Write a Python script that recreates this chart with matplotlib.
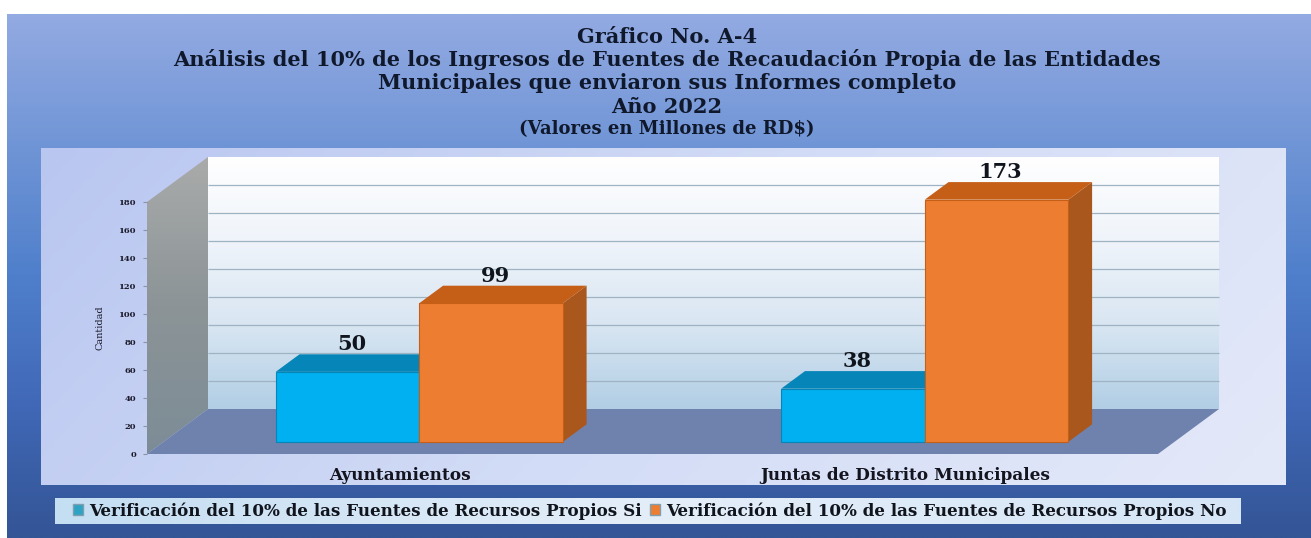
import numpy as np
import matplotlib
matplotlib.use('Agg')
import matplotlib.pyplot as plt
from matplotlib.colors import LinearSegmentedColormap
from matplotlib.patches import Polygon, Patch

plt.rcParams['font.family'] = ['DejaVu Serif', 'Liberation Serif']
plt.rcParams['font.weight'] = 'bold'

categories = ['Ayuntamientos', 'Juntas de Distrito Municipales']
si_values = [50, 38]
no_values = [99, 173]
y_ticks = [0, 20, 40, 60, 80, 100, 120, 140, 160, 180]
series_names = ['Verificación del 10% de las Fuentes de Recursos Propios Si',
                'Verificación del 10% de las Fuentes de Recursos Propios No']
title_lines = ['Gráfico No. A-4',
               'Análisis del 10% de los Ingresos de Fuentes de Recaudación Propia de las Entidades',
               'Municipales que enviaron sus Informes completo',
               'Año 2022',
               '(Valores en Millones de RD$)']

W, H = 1311, 538
fig = plt.figure(figsize=(W / 100, H / 100), dpi=100, facecolor='white')

def px_axes(left, top, right, bottom, **kw):
    return fig.add_axes([left / W, 1 - bottom / H, (right - left) / W, (bottom - top) / H], **kw)

def grad(name, stops, n=256):
    return LinearSegmentedColormap.from_list(name, stops, N=n)

# page background
bg = px_axes(0, 0, W, H)
bg.axis('off')
yy, xx = np.mgrid[0:1:300j, 0:1:600j]
bg.imshow(yy, extent=(7, W, H, 14), aspect='auto', zorder=1, vmin=0, vmax=1,
          cmap=grad('page', ['#93aae2', '#7095d6', '#4f7fcb', '#4068b6', '#345596']))
# chart panel
yy, xx = np.mgrid[0:1:100j, 0:1:300j]
bg.imshow(xx + 0.25 * yy, extent=(41, 1286, 485, 148), aspect='auto', zorder=2,
          cmap=grad('panel', ['#b9c6f0', '#d2dcf6', '#e4e9f9']), vmin=0, vmax=1.25)
# legend box
bg.imshow(xx, extent=(55, 1241, 524, 498), aspect='auto', zorder=2,
          cmap=grad('lgnd', ['#c4def2', '#e4eef9', '#d6e6f6']), vmin=0, vmax=1)
bg.set_xlim(0, W)
bg.set_ylim(H, 0)

for i, line in enumerate(title_lines):
    size = 13 if i == 4 else 15
    fig.text(667 / W, 1 - [37, 60, 83, 107, 129][i] / H, line, ha='center', va='center',
             fontsize=size, color='#10182c', fontweight='bold')

# front plane of the 3D box
ax = px_axes(147, 202, 1158, 454)
ax.patch.set_visible(False)
XMIN, XMAX, YMAX = -0.5, 1.5, 180
DX = 61 / 1011 * (XMAX - XMIN)
DY = 45 / 252 * YMAX

def proj(x, v, d=0.0):
    return x + d * DX, v + d * DY

def face(pts, color, z):
    p = Polygon([proj(*q) for q in pts], closed=True, facecolor=color, edgecolor='none',
                zorder=z, clip_on=False)
    ax.add_patch(p)
    return p

def gradient_face(pts, stops, z):
    xy = np.array([proj(*q) for q in pts])
    p = Polygon(xy, closed=True, facecolor='none', edgecolor='none', zorder=z, clip_on=False)
    ax.add_patch(p)
    g = np.linspace(0, 1, 256).reshape(-1, 1)
    im = ax.imshow(g, extent=(xy[:, 0].min(), xy[:, 0].max(), xy[:, 1].min(), xy[:, 1].max()),
                   origin='upper', aspect='auto', zorder=z, cmap=grad('f%d' % z, stops), vmin=0, vmax=1)
    im.set_clip_path(p)
    im.set_clip_box(fig.bbox)
    return im

# back wall, side wall, floor
gradient_face([(XMIN, 0, 1), (XMAX, 0, 1), (XMAX, YMAX, 1), (XMIN, YMAX, 1)],
              ['#ffffff', '#eff4fa', '#d9e6f2', '#b1cee5'], 1)
gradient_face([(XMIN, 0, 0), (XMIN, 0, 1), (XMIN, YMAX, 1), (XMIN, YMAX, 0)],
              ['#a9abaa', '#8c9497', '#7c8c96'], 1)
face([(XMIN, 0, 0), (XMAX, 0, 0), (XMAX, 0, 1), (XMIN, 0, 1)], '#6f82ad', 2)
for t in y_ticks[1:-1]:
    xa, ya = proj(XMIN, t, 1)
    xb, yb = proj(XMAX, t, 1)
    ax.plot([xa, xb], [ya, yb], color='#9fb3c2', lw=0.9, zorder=2, clip_on=False, solid_capstyle='butt')

# bars, sitting part way into the floor
BAR_W = 0.284
D0, D1 = 0.27, 0.66
OFFSET = 0.006
for idx, vals, front, top, side in [(-1, si_values, '#00b0f0', '#0686b8', '#0686b8'),
                                    (0, no_values, '#ed7d31', '#c55f18', '#a9571c')]:
    for k, v in enumerate(vals):
        x0 = k + OFFSET + (0 if idx == 0 else -BAR_W)
        x1 = x0 + BAR_W
        face([(x1, 0, D0), (x1, 0, D1), (x1, v, D1), (x1, v, D0)], side, 5 + idx)
        face([(x0, v, D0), (x1, v, D0), (x1, v, D1), (x0, v, D1)], top, 5 + idx)
        fx0, fy0 = proj(x0, 0, D0)
        fx1, fy1 = proj(x1, v, D0)
        ax.bar(fx0, fy1 - fy0, width=fx1 - fx0, bottom=fy0, align='edge', color=front,
               edgecolor=top, linewidth=0.8, zorder=5.5 + idx, clip_on=False)
        ly = proj(x0, v, D1)[1]
        ax.annotate(str(v), ((fx0 + fx1) / 2, ly), xytext=(3, 0), textcoords='offset points', ha='center',
                    va='bottom', fontsize=15, color='#10141c', zorder=10, annotation_clip=False)

ax.set_xlim(XMIN, XMAX)
ax.set_ylim(0, YMAX)
ax.set_yticks(y_ticks)
ax.set_yticklabels([str(t) for t in y_ticks], fontsize=6, color='#1a1a2a')
ax.set_xticks([0, 1])
ax.set_xticklabels(categories, fontsize=12.2, color='#14141e')
ax.tick_params(axis='y', length=3, width=0.8, color='#8a93a8', pad=5)
ax.tick_params(axis='x', length=0, pad=9)
ax.set_ylabel('Cantidad', fontsize=7, color='#1a1a2a', labelpad=10)
for s in ax.spines.values():
    s.set_visible(False)

handles = [Patch(facecolor='#2ea3c4', edgecolor='#7f9fb0', label=series_names[0]),
           Patch(facecolor='#ed7d31', edgecolor='#7f9fb0', label=series_names[1])]
fig.legend(handles=handles, ncol=2, loc='center', bbox_to_anchor=(650 / W, 1 - 511 / H), frameon=False,
           fontsize=12.1, handlelength=0.6, handleheight=0.6, handletextpad=0.35, columnspacing=0.5,
           labelcolor='#10141c')

fig.savefig('out.png', dpi=100)
